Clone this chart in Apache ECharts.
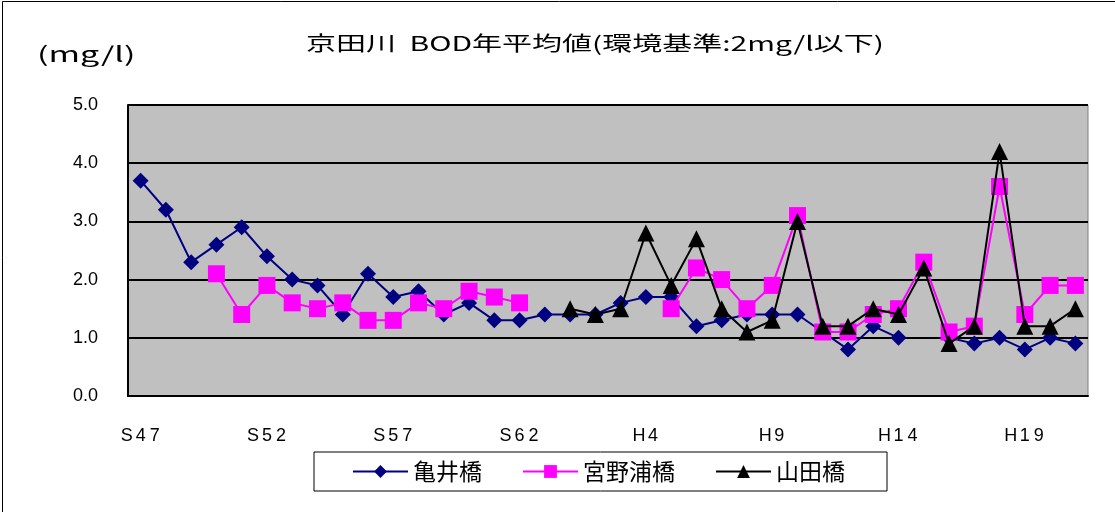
<!DOCTYPE html>
<html>
<head>
<meta charset="utf-8">
<script src="https://cdn.jsdelivr.net/npm/echarts@6/dist/echarts.min.js"></script>
<style>
html, body { margin: 0; padding: 0; background: #fff; }
#main { width: 1115px; height: 512px; }
</style>
</head>
<body>
<div id="main"></div>
<script>
// 年度 (S47〜S63, H1〜H21)
const years = [
  'S47', 'S48', 'S49', 'S50', 'S51', 'S52', 'S53', 'S54', 'S55', 'S56',
  'S57', 'S58', 'S59', 'S60', 'S61', 'S62', 'S63',
  'H1', 'H2', 'H3', 'H4', 'H5', 'H6', 'H7', 'H8', 'H9', 'H10',
  'H11', 'H12', 'H13', 'H14', 'H15', 'H16', 'H17', 'H18', 'H19', 'H20', 'H21'
]

// 亀井橋
const kamei = [
  3.7, 3.2, 2.3, 2.6, 2.9, 2.4, 2.0, 1.9, 1.4, 2.1,
  1.7, 1.8, 1.4, 1.6, 1.3, 1.3, 1.4,
  1.4, 1.4, 1.6, 1.7, 1.7, 1.2, 1.3, 1.4, 1.4, 1.4,
  1.1, 0.8, 1.2, 1.0, null, 1.0, 0.9, 1.0, 0.8, 1.0, 0.9
]

// 宮野浦橋
const miyanoura = [
  null, null, null, 2.1, 1.4, 1.9, 1.6, 1.5, 1.6, 1.3,
  1.3, 1.6, 1.5, 1.8, 1.7, 1.6, null,
  null, null, null, null, 1.5, 2.2, 2.0, 1.5, 1.9, 3.1,
  1.1, 1.1, 1.4, 1.5, 2.3, 1.1, 1.2, 3.6, 1.4, 1.9, 1.9
]

// 山田橋
const yamada = [
  null, null, null, null, null, null, null, null, null, null,
  null, null, null, null, null, null, null,
  1.5, 1.4, 1.5, 2.8, 1.9, 2.7, 1.5, 1.1, 1.3, 3.0,
  1.2, 1.2, 1.5, 1.4, 2.2, 0.9, 1.2, 4.2, 1.2, 1.2, 1.5
]

const yTicks = [0, 1, 2, 3, 4, 5]

const font = '"Liberation Sans", Arial, "Noto Sans CJK JP", sans-serif'
const jpFont = '"Noto Sans CJK JP", sans-serif'

const myChart = echarts.init(document.getElementById('main'))

// 文字間を広げる (元の図は横長のフォント)
function spread (v) {
  return v.split('').map(c => '{c|' + c + '}').join('')
}

const option = {
  animation: false,
  backgroundColor: '#fff',
  graphic: [
    {
      type: 'rect',
      shape: { x: 2.5, y: 1.5, width: 1130, height: 530 },
      style: { fill: 'none', stroke: '#000', lineWidth: 1 }
    },
    {
      type: 'text',
      x: 306,
      y: 33,
      scaleX: 1.5,
      style: {
        text: '京田川  BOD年平均値(環境基準:2mg/l以下)',
        font: '20px ' + jpFont,
        fill: '#000',
        verticalAlign: 'top'
      }
    },
    {
      type: 'text',
      x: 37,
      y: 44,
      scaleX: 1.62,
      style: {
        text: '(mg/l)',
        font: '21px ' + jpFont,
        fill: '#000',
        verticalAlign: 'top'
      }
    }
  ],
  legend: {
    left: 314,
    top: 452,
    padding: [8, 42, 8, 38],
    itemWidth: 55,
    itemHeight: 16,
    itemGap: 40,
    backgroundColor: '#fff',
    borderColor: '#000',
    borderWidth: 1,
    textStyle: {
      fontFamily: jpFont,
      fontSize: 23,
      color: '#000'
    },
    data: ['亀井橋', '宮野浦橋', '山田橋']
  },
  grid: {
    left: 128,
    right: 27,
    top: 105,
    bottom: 116,
    show: true,
    backgroundColor: '#c0c0c0',
    borderColor: '#808080',
    borderWidth: 1
  },
  xAxis: {
    type: 'category',
    data: years,
    boundaryGap: true,
    axisLine: { lineStyle: { color: '#000', width: 2 } },
    axisTick: {
      inside: true,
      length: 5,
      interval: 0,
      lineStyle: { color: '#000', width: 1.5 }
    },
    axisLabel: {
      interval: 4,
      margin: 31,
      formatter: spread,
      rich: {
        c: {
          width: 14,
          align: 'center',
          fontFamily: font,
          fontSize: 18,
          color: '#000'
        }
      }
    }
  },
  yAxis: {
    type: 'value',
    min: yTicks[0],
    max: yTicks[yTicks.length - 1],
    interval: 1,
    axisLine: { show: true, lineStyle: { color: '#000', width: 2 } },
    axisTick: { show: false },
    splitLine: { lineStyle: { color: '#000', width: 2 } },
    axisLabel: {
      margin: 30,
      fontFamily: font,
      fontSize: 18,
      color: '#000',
      formatter: v => v.toFixed(1)
    }
  },
  series: [
    {
      name: '亀井橋',
      type: 'line',
      data: kamei,
      symbol: 'diamond',
      symbolSize: 16,
      showAllSymbol: true,
      connectNulls: false,
      itemStyle: { color: '#000080' },
      lineStyle: { color: '#000080', width: 2 },
      z: 3
    },
    {
      name: '宮野浦橋',
      type: 'line',
      data: miyanoura,
      symbol: 'rect',
      symbolSize: 17,
      showAllSymbol: true,
      connectNulls: false,
      itemStyle: { color: '#ff00ff' },
      lineStyle: { color: '#ff00ff', width: 2 },
      z: 4
    },
    {
      name: '山田橋',
      type: 'line',
      data: yamada,
      symbol: 'triangle',
      symbolSize: 17,
      showAllSymbol: true,
      connectNulls: false,
      itemStyle: { color: '#000' },
      lineStyle: { color: '#000', width: 2 },
      z: 5
    }
  ]
}

myChart.setOption(option)
</script>
</body>
</html>
